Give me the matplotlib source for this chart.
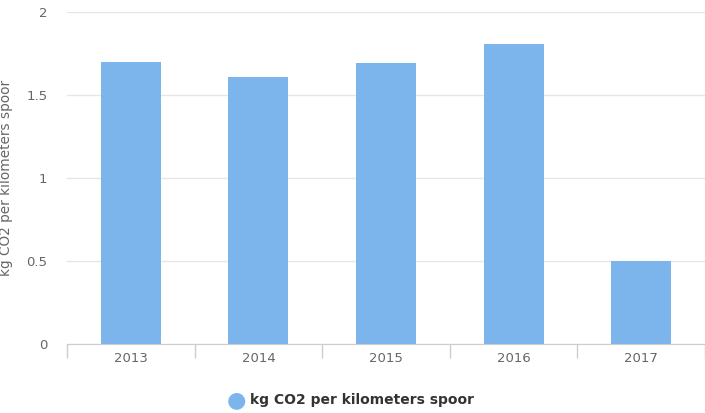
import numpy as np
import matplotlib
matplotlib.use("Agg")
import matplotlib.pyplot as plt

# ---------------- data ----------------
years = ["2013", "2014", "2015", "2016", "2017"]
values = [1.70, 1.61, 1.69, 1.81, 0.50]
series_name = "kg CO2 per kilometers spoor"
y_ticks = [0, 0.5, 1, 1.5, 2]

bar_color = "#7cb5ec"
text_color = "#666666"

fig = plt.figure(figsize=(7.05, 4.13), dpi=100)
ax = fig.add_axes([0.095, 0.167, 0.905, 0.804])

x = np.arange(len(years))
ax.bar(x, values, width=0.47, color=bar_color, zorder=3, label=series_name)

ax.set_xlim(-0.5, len(years) - 0.5)
ax.set_ylim(0, 2)
ax.set_yticks(y_ticks)
ax.set_yticklabels(["0", "0.5", "1", "1.5", "2"])
ax.yaxis.grid(True, color="#e6e6e6", linewidth=1, zorder=0)

# category ticks at boundaries
ax.set_xticks(np.arange(-0.5, len(years)), minor=False)
ax.set_xticklabels([])
ax.set_xticks(x, minor=True)
ax.set_xticklabels(years, minor=True)
ax.tick_params(axis="x", which="major", length=10, color="#cccccc", width=1)
ax.tick_params(axis="x", which="minor", length=0, pad=6, labelsize=9.5, labelcolor=text_color)
ax.tick_params(axis="y", length=0, pad=14, labelsize=9.5, labelcolor=text_color)

for s in ["top", "right", "left"]:
    ax.spines[s].set_visible(False)
ax.spines["bottom"].set_color("#cccccc")

ax.set_ylabel(series_name, color=text_color, fontsize=9.8)
ax.yaxis.set_label_coords(-0.085, 0.5)

# legend
fig.text(0.336, 0.031, "\u25cf", color=bar_color, fontsize=16, ha="center", va="center")
fig.text(0.355, 0.031, series_name, color="#333333", fontsize=10, fontweight="bold",
         ha="left", va="center")

fig.savefig("out.png", dpi=100)
